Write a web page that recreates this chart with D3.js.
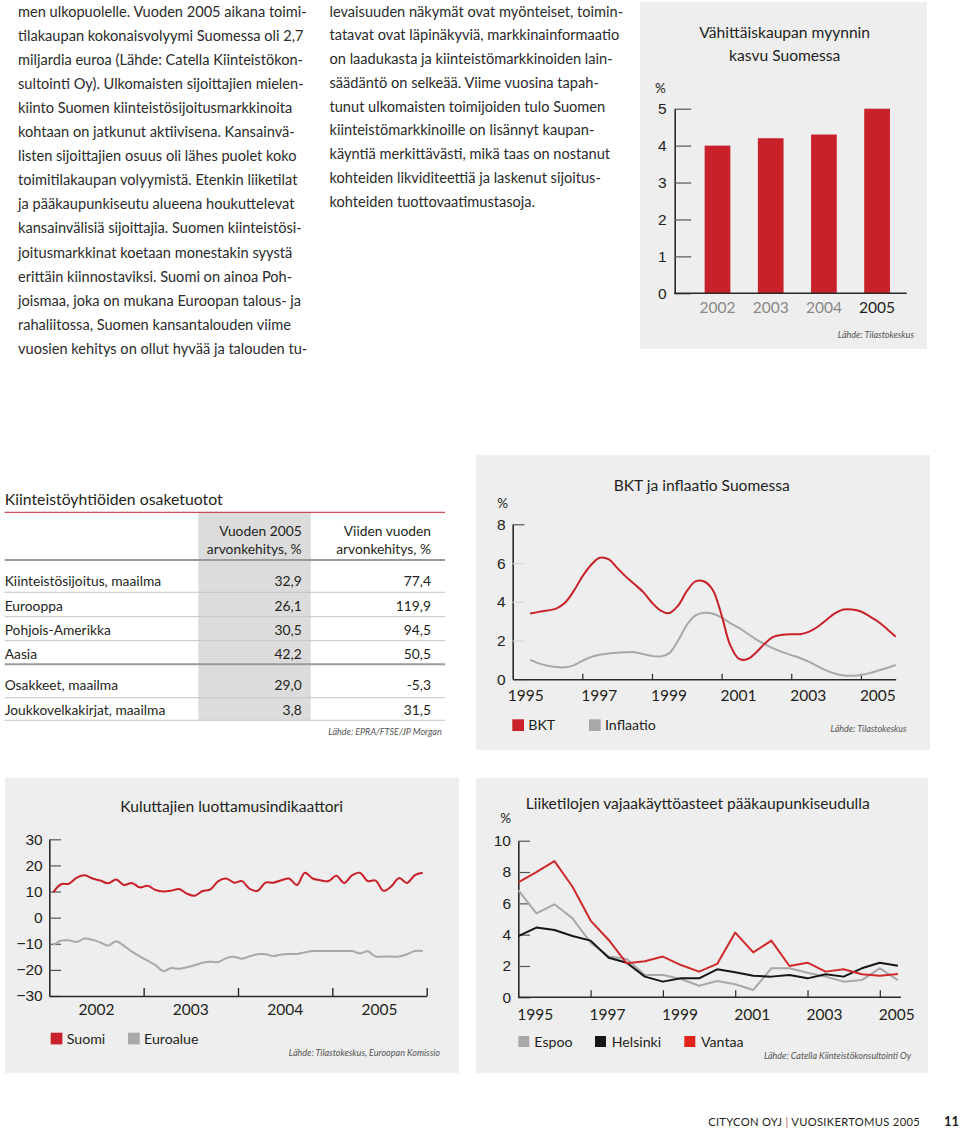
<!DOCTYPE html>
<html>
<head>
<meta charset="utf-8">
<script src="https://cdn.jsdelivr.net/npm/d3@7/dist/d3.min.js"></script>
<style>
  html, body { margin: 0; padding: 0; background: #fff; }
  svg { display: block; font-family: Lato, "Open Sans", sans-serif; }
</style>
</head>
<body>
<svg id="page" width="960" height="1130"></svg>
<script>
// ---------------- DATA ----------------
const textLeft = [
  "men ulkopuolelle. Vuoden 2005 aikana toimi-",
  "tilakaupan kokonaisvolyymi Suomessa oli 2,7",
  "miljardia euroa (Lähde: Catella Kiinteistökon-",
  "sultointi Oy). Ulkomaisten sijoittajien mielen-",
  "kiinto Suomen kiinteistösijoitusmarkkinoita",
  "kohtaan on jatkunut aktiivisena. Kansainvä-",
  "listen sijoittajien osuus oli lähes puolet koko",
  "toimitilakaupan volyymistä. Etenkin liiketilat",
  "ja pääkaupunkiseutu alueena houkuttelevat",
  "kansainvälisiä sijoittajia. Suomen kiinteistösi-",
  "joitusmarkkinat koetaan monestakin syystä",
  "erittäin kiinnostaviksi. Suomi on ainoa Poh-",
  "joismaa, joka on mukana Euroopan talous- ja",
  "rahaliitossa, Suomen kansantalouden viime",
  "vuosien kehitys on ollut hyvää ja talouden tu-"
];
const textRight = [
  "levaisuuden näkymät ovat myönteiset, toimin-",
  "tatavat ovat läpinäkyviä, markkinainformaatio",
  "on laadukasta ja kiinteistömarkkinoiden lain-",
  "säädäntö on selkeää. Viime vuosina tapah-",
  "tunut ulkomaisten toimijoiden tulo Suomen",
  "kiinteistömarkkinoille on lisännyt kaupan-",
  "käyntiä merkittävästi, mikä taas on nostanut",
  "kohteiden likviditeettiä ja laskenut sijoitus-",
  "kohteiden tuottovaatimustasoja."
];

// Retail sales growth
const retailYears = ["2002", "2003", "2004", "2005"];
const retailGrowth = [4.0, 4.2, 4.3, 5.0];
const retailTicks = [0, 1, 2, 3, 4, 5];

// Table
const tableRows = ["Kiinteistösijoitus, maailma", "Eurooppa", "Pohjois-Amerikka", "Aasia",
                   "Osakkeet, maailma", "Joukkovelkakirjat, maailma"];
const return2005 = [32.9, 26.1, 30.5, 42.2, 29.0, 3.8];
const return5y = [77.4, 119.9, 94.5, 50.5, -5.3, 31.5];

// GDP and inflation (quarterly)
const bktTime = [1995.5,1995.75,1996,1996.25,1996.5,1996.75,1997,1997.25,1997.5,1997.75,
  1998,1998.25,1998.5,1998.75,1999,1999.25,1999.5,1999.75,2000,2000.25,2000.5,2000.75,
  2001,2001.25,2001.5,2001.75,2002,2002.25,2002.5,2002.75,2003,2003.25,2003.5,2003.75,
  2004,2004.25,2004.5,2004.75,2005,2005.25,2005.5,2005.75,2006];
const bktValues = [3.40,3.48,3.55,3.65,3.95,4.55,5.3,5.9,6.27,6.2,
  5.75,5.3,4.9,4.5,3.95,3.55,3.42,3.8,4.55,5.05,
  5.05,4.6,3.3,1.75,1.05,1.05,1.4,1.86,2.2,2.3,
  2.33,2.33,2.45,2.7,3.05,3.4,3.6,3.6,3.5,3.25,
  2.97,2.6,2.2];
const inflationValues = [1.0,0.82,0.7,0.63,0.62,0.72,0.95,1.15,1.27,1.33,
  1.37,1.39,1.4,1.3,1.2,1.18,1.35,2.0,2.8,3.3,
  3.43,3.38,3.18,2.9,2.65,2.35,2.05,1.8,1.58,1.4,
  1.25,1.1,0.91,0.68,0.46,0.3,0.2,0.18,0.22,0.32,
  0.45,0.58,0.74];
const bktYearLabels = [1995, 1997, 1999, 2001, 2003, 2005];
const bktYTicks = [0, 2, 4, 6, 8];

// Consumer confidence (monthly 2002-2005)
const confYears = [2002, 2003, 2004, 2005];
const confSuomi = [9.7,12.8,13.0,15.3,16.2,15.0,14.2,13.2,14.6,12.5,
  13.3,11.6,12.2,10.6,10.0,10.3,11.0,9.2,8.4,10.2,
  10.8,14.0,15.0,13.4,14.0,11.0,10.3,13.4,13.4,14.3,
  15.0,12.5,17.2,15.0,14.3,14.0,16.0,13.3,16.2,17.2,
  14.0,14.2,10.3,12.0,15.2,13.3,16.3,17.2];
const confEuro = [-10.5,-8.8,-8.7,-9.3,-8.0,-8.5,-9.5,-10.7,-9.0,-10.8,
  -13.0,-14.8,-16.5,-18.2,-20.5,-19.3,-19.6,-19.0,-18.2,-17.3,
  -16.9,-17.0,-15.5,-15.0,-15.7,-14.8,-14.0,-14.0,-14.7,-14.1,
  -13.9,-13.9,-13.3,-12.8,-12.8,-12.8,-12.8,-12.8,-12.8,-13.7,
  -12.9,-14.9,-14.9,-14.9,-14.9,-14.0,-12.8,-12.8];
const confYTicks = [-30, -20, -10, 0, 10, 20, 30];

// Vacancy rates (semi-annual)
const vacTime = [1995,1995.5,1996,1996.5,1997,1997.5,1998,1998.5,1999,1999.5,2000,2000.5,
  2001,2001.5,2002,2002.5,2003,2003.5,2004,2004.5,2005,2005.5];
const vacEspoo = [6.85,5.36,5.94,5.04,3.49,2.6,2.45,1.43,1.43,1.17,0.74,1.04,
  0.83,0.47,1.85,1.85,1.57,1.32,1.0,1.1,1.85,1.1];
const vacHelsinki = [3.91,4.45,4.3,3.91,3.62,2.53,2.21,1.32,1.0,1.21,1.21,1.79,
  1.6,1.38,1.32,1.43,1.21,1.47,1.32,1.85,2.21,2.02];
const vacVantaa = [7.34,8.0,8.7,7.06,4.9,3.66,2.17,2.3,2.6,2.06,1.64,2.13,
  4.13,2.87,3.62,2.0,2.21,1.64,1.79,1.47,1.38,1.49];
const vacYearLabels = [1995, 1997, 1999, 2001, 2003, 2005];
const vacYTicks = [0, 2, 4, 6, 8, 10];

// ---------------- STYLE ----------------
const RED = "#c8212a", GREY = "#a8a8a8", BG = "#eeeeee", INK = "#231f20", AX = "#2a2a2a";
const TICK = 15.5, TITLE = 15.6;
const svg = d3.select("#page");
svg.append("rect").attr("width", 960).attr("height", 1130).attr("fill", "#fff");

function txt(g, x, y, s, opt = {}) {
  return g.append("text").attr("x", x).attr("y", y).text(s)
    .attr("font-size", opt.size || 14)
    .attr("fill", opt.fill || INK)
    .attr("text-anchor", opt.anchor || "start")
    .attr("font-style", opt.italic ? "italic" : null)
    .attr("font-weight", opt.weight || null);
}

// ---------------- BODY TEXT ----------------
const tl = svg.append("g");
textLeft.forEach((s, i) => txt(tl, 18, 17 + i * 24.05, s, {size: 14.6, fill: "#2b2b2b"}));
const tr = svg.append("g");
textRight.forEach((s, i) => txt(tr, 329.5, 16.5 + i * 23.75, s, {size: 14.6, fill: "#2b2b2b"}));

// ---------------- RETAIL BAR CHART ----------------
{
  const g = svg.append("g");
  g.append("rect").attr("x", 640).attr("y", 2).attr("width", 287).attr("height", 347).attr("fill", BG);
  const y = d3.scaleLinear().domain([0, 5]).range([293.3, 108.7]);
  const x = d3.scalePoint().domain(retailYears).range([717.5, 877.1]);
  const bw = 25.7;
  g.selectAll("rect.bar").data(retailGrowth).join("rect").attr("class", "bar")
    .attr("x", (d, i) => x(retailYears[i]) - bw / 2)
    .attr("y", d => y(d)).attr("width", bw).attr("height", d => y(0) - y(d))
    .attr("fill", RED);
  const ax = g.append("g").attr("transform", "translate(674.7,0)")
    .call(d3.axisLeft(y).tickValues(retailTicks).tickSizeInner(-16.5).tickSizeOuter(0).tickPadding(8).tickFormat(d3.format("d")));
  ax.select(".domain").attr("stroke", AX).attr("stroke-width", 1.6);
  ax.selectAll(".tick line").attr("stroke", "#555").attr("stroke-width", 1.2);
  ax.selectAll(".tick text").attr("font-size", TICK).attr("fill", INK).attr("font-family", null);
  g.append("line").attr("x1", 674).attr("x2", 906.7).attr("y1", y(0)).attr("y2", y(0))
    .attr("stroke", AX).attr("stroke-width", 1.6);
  retailYears.forEach((yr, i) => txt(g, x(yr), 312.5, yr, {size: TICK, anchor: "middle",
    fill: i === retailYears.length - 1 ? INK : "#888"}));
  txt(g, 784.7, 38, "Vähittäiskaupan myynnin", {size: TITLE, anchor: "middle"});
  txt(g, 784.7, 60.5, "kasvu Suomessa", {size: TITLE, anchor: "middle"});
  txt(g, 660.5, 93, "%", {size: 13.5, anchor: "middle"});
  txt(g, 914, 338, "Lähde: Tilastokeskus", {size: 9, anchor: "end", italic: true, fill: "#555"});
}

// ---------------- TABLE ----------------
{
  const g = svg.append("g");
  const L = 4.7, R = 445, c1 = 301.7, c2 = 431;
  g.append("rect").attr("x", 198.3).attr("y", 512.5).attr("width", 112.4).attr("height", 207.5).attr("fill", "#dcdcdc");
  txt(g, L, 505, "Kiinteistöyhtiöiden osaketuotot", {size: 15.8});
  g.append("line").attr("x1", L).attr("x2", R).attr("y1", 512.3).attr("y2", 512.3).attr("stroke", RED).attr("stroke-width", 1);
  txt(g, c1, 536, "Vuoden 2005", {size: 13.8, anchor: "end"});
  txt(g, c1, 554, "arvonkehitys, %", {size: 13.8, anchor: "end"});
  txt(g, c2, 536, "Viiden vuoden", {size: 13.8, anchor: "end"});
  txt(g, c2, 554, "arvonkehitys, %", {size: 13.8, anchor: "end"});
  const fmt = v => d3.format(".1f")(v).replace(".", ",").replace("−", "-");
  const rowY = [580.7, 605.7, 630, 654, 685, 710];
  tableRows.forEach((r, i) => {
    txt(g, L, rowY[i] + 5, r, {size: 13.8});
    txt(g, c1, rowY[i] + 5, fmt(return2005[i]), {size: 13.8, anchor: "end"});
    txt(g, c2, rowY[i] + 5, fmt(return5y[i]), {size: 13.8, anchor: "end"});
  });
  const rules = [[560, "#9a9a9a", 2], [592.3, "#c4c4c4", 1], [616.7, "#c4c4c4", 1], [640.7, "#c4c4c4", 1],
                 [664.3, "#9a9a9a", 2], [697.7, "#c4c4c4", 1], [720.3, "#c4c4c4", 1]];
  rules.forEach(([yy, c, w]) => g.append("line").attr("x1", L).attr("x2", R).attr("y1", yy).attr("y2", yy)
    .attr("stroke", c).attr("stroke-width", w));
  txt(g, 441.7, 735, "Lähde: EPRA/FTSE/JP Morgan", {size: 9, anchor: "end", italic: true, fill: "#555"});
}

// ---------------- BKT & INFLATION ----------------
{
  const g = svg.append("g");
  g.append("rect").attr("x", 476).attr("y", 455).attr("width", 454).attr("height", 295).attr("fill", BG);
  const x = d3.scaleLinear().domain([1995, 2006]).range([512.7, 895.7]);
  const y = d3.scaleLinear().domain([0, 8]).range([679.3, 524.3]);
  const ax = g.append("g").attr("transform", "translate(512.7,0)")
    .call(d3.axisLeft(y).tickValues(bktYTicks).tickSizeInner(-11.7).tickSizeOuter(0).tickPadding(7).tickFormat(d3.format("d")));
  ax.select(".domain").attr("stroke", AX).attr("stroke-width", 1.6);
  ax.selectAll(".tick line").attr("stroke", d => d === 8 ? "#555" : "#d6d6d6").attr("stroke-width", 1.2);
  ax.selectAll(".tick text").attr("font-size", TICK).attr("fill", INK).attr("font-family", null);
  const xa = g.append("g").attr("transform", `translate(0,${y(0)})`)
    .call(d3.axisBottom(x).tickValues([1997, 1999, 2001, 2003, 2005]).tickSizeInner(-5.5).tickSizeOuter(0).tickFormat(""));
  xa.select(".domain").attr("stroke", AX).attr("stroke-width", 1.6);
  xa.selectAll(".tick line").attr("stroke", AX).attr("stroke-width", 1.2);
  bktYearLabels.forEach(yr => txt(g, x(yr) - (yr === 1995 ? 5 : 1), 700.5, String(yr), {size: TICK}));
  const line = d3.line().x((d, i) => x(bktTime[i])).y(d => y(d)).curve(d3.curveCatmullRom.alpha(0.5));
  g.append("path").datum(inflationValues).attr("d", line).attr("fill", "none").attr("stroke", GREY).attr("stroke-width", 2);
  g.append("path").datum(bktValues).attr("d", line).attr("fill", "none").attr("stroke", RED).attr("stroke-width", 2);
  txt(g, 701.7, 491, "BKT ja inflaatio Suomessa", {size: TITLE, anchor: "middle"});
  txt(g, 502.7, 508, "%", {size: 13.5, anchor: "middle"});
  g.append("rect").attr("x", 512.3).attr("y", 719.3).attr("width", 11.7).attr("height", 11.7).attr("fill", RED);
  txt(g, 528.3, 729.5, "BKT", {size: 14.2});
  g.append("rect").attr("x", 589).attr("y", 719.3).attr("width", 11.7).attr("height", 11.7).attr("fill", GREY);
  txt(g, 605, 729.5, "Inflaatio", {size: 14.2});
  txt(g, 906.7, 732, "Lähde: Tilastokeskus", {size: 9, anchor: "end", italic: true, fill: "#555"});
}

// ---------------- CONSUMER CONFIDENCE ----------------
{
  const g = svg.append("g");
  g.append("rect").attr("x", 5).attr("y", 778).attr("width", 454).attr("height", 295).attr("fill", BG);
  const x = d3.scaleLinear().domain([2002, 2006]).range([49.3, 426.7]);
  const y = d3.scaleLinear().domain([-30, 30]).range([996, 839.3]);
  const ax = g.append("g").attr("transform", "translate(49.3,0)")
    .call(d3.axisLeft(y).tickValues(confYTicks).tickSizeInner(-11.7).tickSizeOuter(0).tickPadding(6.6).tickFormat(d3.format("d")));
  ax.select(".domain").attr("stroke", AX).attr("stroke-width", 1.6);
  ax.selectAll(".tick line").attr("stroke", "#555").attr("stroke-width", 1.2);
  ax.selectAll(".tick text").attr("font-size", TICK).attr("fill", INK).attr("font-family", null);
  const xa = g.append("g").attr("transform", `translate(0,${y(-30)})`)
    .call(d3.axisBottom(x).tickValues([2003, 2004, 2005, 2006]).tickSizeInner(-8).tickSizeOuter(0).tickFormat(""));
  xa.select(".domain").attr("stroke", AX).attr("stroke-width", 1.6);
  xa.selectAll(".tick line").attr("stroke", AX).attr("stroke-width", 1.4);
  confYears.forEach(yr => txt(g, x(yr + 0.5), 1014.5, String(yr), {size: TICK, anchor: "middle"}));
  const line = d3.line().x((d, i) => x(2002 + (i + 0.5) / 12)).y(d => y(d)).curve(d3.curveCatmullRom.alpha(0.5));
  g.append("path").datum(confEuro).attr("d", line).attr("fill", "none").attr("stroke", GREY).attr("stroke-width", 2);
  g.append("path").datum(confSuomi).attr("d", line).attr("fill", "none").attr("stroke", RED).attr("stroke-width", 2);
  txt(g, 231.7, 812, "Kuluttajien luottamusindikaattori", {size: TITLE, anchor: "middle"});
  g.append("rect").attr("x", 50.7).attr("y", 1032.7).attr("width", 11.7).attr("height", 11.7).attr("fill", RED);
  txt(g, 66.7, 1043.5, "Suomi", {size: 14.2});
  g.append("rect").attr("x", 128).attr("y", 1032.7).attr("width", 11.7).attr("height", 11.7).attr("fill", GREY);
  txt(g, 144, 1043.5, "Euroalue", {size: 14.2});
  txt(g, 440, 1056, "Lähde: Tilastokeskus, Euroopan Komissio", {size: 9, anchor: "end", italic: true, fill: "#555"});
}

// ---------------- VACANCY RATES ----------------
{
  const g = svg.append("g");
  g.append("rect").attr("x", 476).attr("y", 778).attr("width", 452).attr("height", 295).attr("fill", BG);
  const x = d3.scaleLinear().domain([1995, 2005.5]).range([518.3, 897.9]);
  const y = d3.scaleLinear().domain([0, 10]).range([997.3, 840.7]);
  const ax = g.append("g").attr("transform", "translate(518.3,0)")
    .call(d3.axisLeft(y).tickValues(vacYTicks).tickSizeInner(-11.7).tickSizeOuter(0).tickPadding(7.3).tickFormat(d3.format("d")));
  ax.select(".domain").attr("stroke", AX).attr("stroke-width", 1.6);
  ax.selectAll(".tick line").attr("stroke", "#555").attr("stroke-width", 1.2);
  ax.selectAll(".tick text").attr("font-size", TICK).attr("fill", INK).attr("font-family", null);
  const xa = g.append("g").attr("transform", `translate(0,${y(0)})`)
    .call(d3.axisBottom(x).tickValues([1997, 1999, 2001, 2003, 2005]).tickSizeInner(-7).tickSizeOuter(0).tickFormat(""));
  xa.select(".domain").attr("stroke", AX).attr("stroke-width", 1.6).attr("d", `M518.3,0H901`);
  xa.selectAll(".tick line").attr("stroke", AX).attr("stroke-width", 1.2);
  vacYearLabels.forEach(yr => txt(g, x(yr) - 1, 1019.5, String(yr), {size: TICK}));
  const line = d3.line().x((d, i) => x(vacTime[i])).y(d => y(d));
  [[vacEspoo, GREY], [vacHelsinki, "#161616"], [vacVantaa, "#cf2a2a"]].forEach(([s, c]) =>
    g.append("path").datum(s).attr("d", line).attr("fill", "none").attr("stroke", c).attr("stroke-width", 2).attr("stroke-linejoin", "round"));
  txt(g, 697.7, 809, "Liiketilojen vajaakäyttöasteet pääkaupunkiseudulla", {size: TITLE, anchor: "middle"});
  txt(g, 505.7, 823, "%", {size: 13.5, anchor: "middle"});
  const leg = [["Espoo", GREY, 518.3, 534.3], ["Helsinki", "#161616", 595, 611.7], ["Vantaa", "#e0261c", 684.3, 701]];
  leg.forEach(([n, c, rx, tx]) => {
    g.append("rect").attr("x", rx).attr("y", 1036).attr("width", 11).attr("height", 11).attr("fill", c);
    txt(g, tx, 1046.5, n, {size: 14.2});
  });
  txt(g, 911, 1059, "Lähde: Catella Kiinteistökonsultointi Oy", {size: 9, anchor: "end", italic: true, fill: "#555"});
}

// ---------------- FOOTER ----------------
{
  const g = svg.append("g");
  const t = g.append("text").attr("x", 920).attr("y", 1126).attr("text-anchor", "end")
    .attr("font-size", 11.2).attr("fill", INK).attr("letter-spacing", 0.3);
  t.append("tspan").text("CITYCON OYJ ");
  t.append("tspan").attr("fill", "#b56a6a").text("|");
  t.append("tspan").text(" VUOSIKERTOMUS 2005");
  txt(g, 959, 1126, "11", {size: 13, anchor: "end", weight: "bold"});
}
</script>
</body>
</html>
